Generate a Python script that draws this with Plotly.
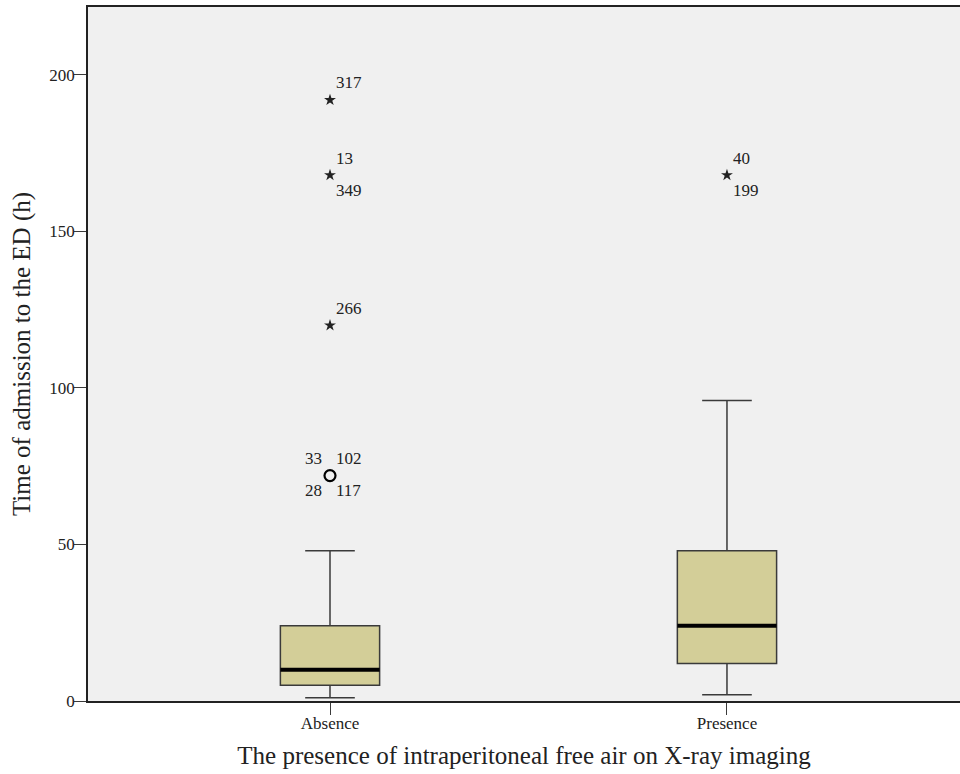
import plotly.graph_objects as go

categories = ["Absence", "Presence"]
cat_pos = [0, 1]
lower_whisker = [1, 2]
q1 = [5, 12]
median = [10, 24]
q3 = [24, 48]
upper_whisker = [48, 96]

# outliers: (category index, value, marker kind)
out_cat = [0, 0, 0, 0, 1]
out_val = [72, 120, 168, 192, 168]
out_kind = ["circle", "star", "star", "star", "star"]

# case labels next to outliers
lab_cat = [0, 0, 0, 0, 0, 0, 0, 0, 1, 1]
lab_val = [192, 168, 168, 120, 72, 72, 72, 72, 168, 168]
lab_text = ["317", "13", "349", "266", "33", "102", "28", "117", "40", "199"]
lab_side = ["r", "r", "r", "r", "l", "r", "l", "r", "r", "r"]
lab_vert = ["up", "up", "down", "up", "up", "up", "down", "down", "up", "down"]

y_ticks = [0, 50, 100, 150, 200]

FONT = "Liberation Serif, Times New Roman, serif"
BOX_FILL = "#d3ce98"
LINE = "#3a3a3a"
BOX_W = 0.25

fig = go.Figure()

for i, c in enumerate(categories):
    fig.add_trace(go.Box(
        x=[cat_pos[i]], q1=[q1[i]], median=[median[i]], q3=[q3[i]],
        lowerfence=[lower_whisker[i]], upperfence=[upper_whisker[i]],
        width=BOX_W, whiskerwidth=0.5, fillcolor=BOX_FILL,
        line=dict(color=LINE, width=1.5), boxpoints=False,
        showlegend=False, hoverinfo="skip", name=c,
    ))
    fig.add_trace(go.Scatter(
        x=[cat_pos[i] - BOX_W / 2, cat_pos[i] + BOX_W / 2],
        y=[median[i], median[i]], mode="lines",
        line=dict(color="black", width=4), showlegend=False, hoverinfo="skip",
    ))

for kind in ["circle", "star"]:
    xs = [cat_pos[c] for c, k in zip(out_cat, out_kind) if k == kind]
    ys = [v for v, k in zip(out_val, out_kind) if k == kind]
    if kind == "circle":
        marker = dict(symbol="circle-open", size=11, color="black", line=dict(width=2.2, color="black"))
    else:
        marker = dict(symbol="star", size=9, color="#222", line=dict(width=0))
    fig.add_trace(go.Scatter(x=xs, y=ys, mode="markers", marker=marker,
                             showlegend=False, hoverinfo="skip"))

for c, v, t, s, vv in zip(lab_cat, lab_val, lab_text, lab_side, lab_vert):
    fig.add_annotation(
        x=cat_pos[c], y=v, text=t, showarrow=False,
        xanchor="left" if s == "r" else "right",
        xshift=4 if s == "r" else -6,
        yshift=17 if vv == "up" else -15,
        font=dict(family=FONT, size=17, color="#222"),
    )

fig.update_layout(
    width=960, height=774,
    margin=dict(l=88, r=0, t=7, b=73),
    paper_bgcolor="white", plot_bgcolor="#f0f0f0",
    font=dict(family=FONT, color="#222"),
    showlegend=False,
    xaxis=dict(
        range=[-0.6096, 1.587], tickvals=cat_pos, ticktext=categories,
        ticks="outside", ticklen=12, tickwidth=1.3, tickcolor=LINE,
        ticklabelstandoff=-6,
        showline=True, linecolor="#222", linewidth=1.5, mirror=True,
        showgrid=False, zeroline=False,
        tickfont=dict(family=FONT, size=17, color="#222"),
        title=dict(text="The presence of intraperitoneal free air on X-ray imaging",
                   font=dict(family=FONT, size=25, color="#222"), standoff=14),
    ),
    yaxis=dict(
        range=[0, 221.7], tickvals=y_ticks,
        ticks="outside", ticklen=12, tickwidth=1.3, tickcolor=LINE,
        ticklabelstandoff=-4,
        showline=True, linecolor="#222", linewidth=1.5,
        showgrid=False, zeroline=False,
        tickfont=dict(family=FONT, size=17, color="#222"),
        title=dict(text="Time of admission to the ED (h)",
                   font=dict(family=FONT, size=25, color="#222"), standoff=12),
    ),
)

fig.write_html("out.html", config={"displayModeBar": False},
               post_script="document.body.style.margin='0px';")
